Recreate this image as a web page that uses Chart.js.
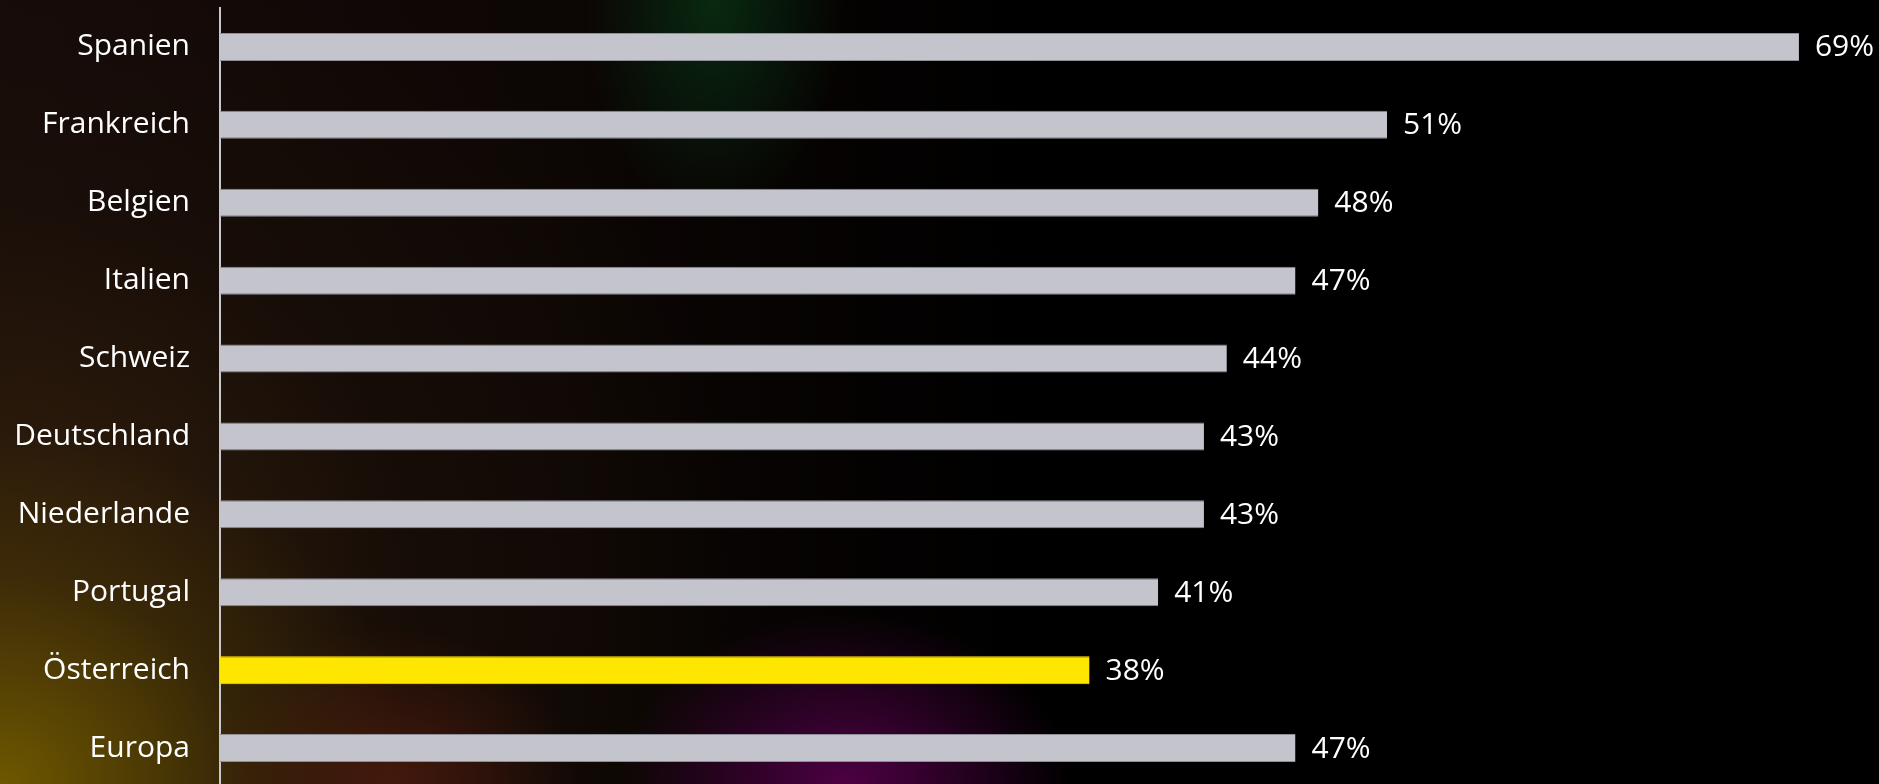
<!DOCTYPE html>
<html>
<head>
<meta charset="utf-8">
<script src="https://cdn.jsdelivr.net/npm/chart.js@4.4.1/dist/chart.umd.min.js"></script>
<style>
  html, body { margin: 0; padding: 0; }
  body {
    width: 1879px; height: 784px; overflow: hidden;
    background:
      radial-gradient(ellipse 7% 28% at 38% 0%, rgba(8, 45, 18, 0.9), rgba(0,0,0,0) 100%),
      radial-gradient(ellipse 12% 22% at 45% 100%, rgba(85, 0, 75, 0.9), rgba(0,0,0,0) 100%),
      radial-gradient(ellipse 10% 20% at 21% 100%, rgba(80, 28, 15, 0.8), rgba(0,0,0,0) 100%),
      radial-gradient(ellipse 22% 45% at 0% 100%, rgba(110, 88, 0, 1), rgba(70, 52, 5, 0.5) 60%, rgba(0,0,0,0) 100%),
      radial-gradient(ellipse 40% 90% at 0% 75%, rgba(55, 35, 12, 0.9), rgba(30, 18, 8, 0.5) 55%, rgba(0,0,0,0) 100%),
      linear-gradient(to right, #150a09 0%, #0c0604 30%, #000 55%, #000 100%);
  }
  #wrap { position: relative; width: 1879px; height: 787px; }
</style>
</head>
<body>
<div id="wrap"><canvas id="myChart"></canvas></div>
<script>
const ctx = document.getElementById("myChart");

// Werte aus der Grafik
const laender = ["Spanien", "Frankreich", "Belgien", "Italien", "Schweiz", "Deutschland", "Niederlande", "Portugal", "Österreich", "Europa"];
const anteile = [69, 51, 48, 47, 44, 43, 43, 41, 38, 47];
const balkenFarben = ["#c4c4cd", "#c4c4cd", "#c4c4cd", "#c4c4cd", "#c4c4cd", "#c4c4cd", "#c4c4cd", "#c4c4cd", "#ffe600", "#c4c4cd"];

const fontName = "'Open Sans', 'Noto Sans', sans-serif";

// Prozentwerte rechts neben die Balken schreiben
const wertLabels = {
  id: "wertLabels",
  afterDatasetsDraw(chart) {
    const c = chart.ctx;
    const meta = chart.getDatasetMeta(0);
    c.save();
    c.font = "30px " + fontName;
    c.fillStyle = "#ffffff";
    c.textAlign = "left";
    c.textBaseline = "middle";
    meta.data.forEach((bar, i) => {
      c.fillText(anteile[i] + "%", bar.x + 16, bar.y + 1);
    });
    c.restore();
  }
};

var myChart = new Chart(ctx, {
  type: "bar",
  data: {
    labels: laender,
    datasets: [
      {
        data: anteile,
        backgroundColor: balkenFarben,
        borderColor: balkenFarben.map(f => f === "#ffe600" ? "#ffe600" : "#8f8f97"),
        borderWidth: { top: 1, bottom: 1, left: 0, right: 0 },
        barPercentage: 0.36,
        categoryPercentage: 1,
      },
    ],
  },
  options: {
    indexAxis: "y",
    responsive: true,
    maintainAspectRatio: false,
    animation: false,
    layout: { padding: { top: 8, right: 0, bottom: 0, left: 0 } },
    plugins: {
      legend: { display: false },
      tooltip: { enabled: false },
    },
    scales: {
      x: {
        display: false,
        min: 0,
        max: 72.5,
      },
      y: {
        afterFit(scale) {
          scale.width = 220;
          scale.paddingTop = 0;
          scale.paddingBottom = 0;
        },
        grid: { display: false, drawTicks: false },
        border: { display: true, color: "#c8c8cc", width: 2 },
        ticks: {
          color: "#ffffff",
          padding: 30,
          font: { family: fontName, size: 30 },
        },
      },
    },
  },
  plugins: [wertLabels],
});
</script>
</body>
</html>
